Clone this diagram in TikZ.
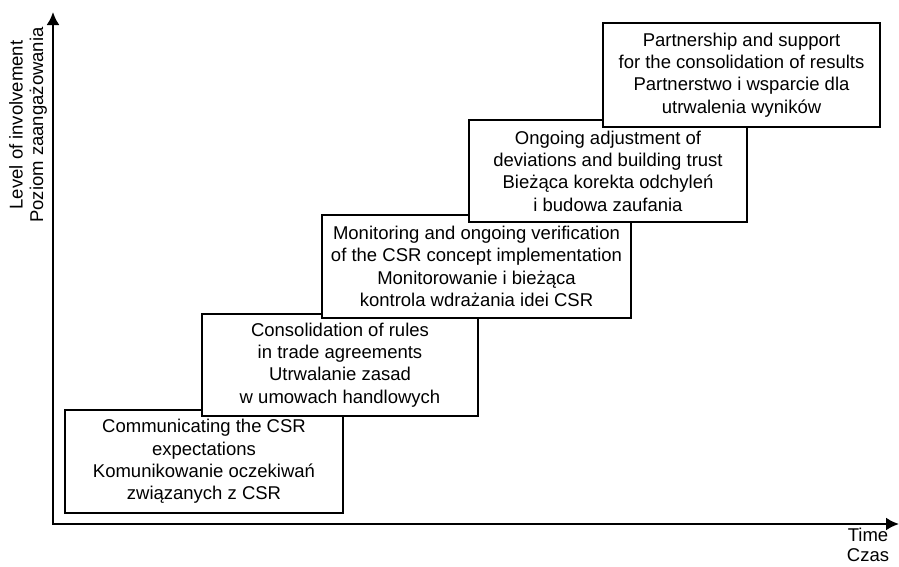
\documentclass[tikz,border=0pt]{standalone}
\usepackage{fontspec}
\setmainfont{Liberation Sans}
\usetikzlibrary{arrows.meta}
\tikzset{
  stage/.style={draw=black, fill=white, line width=1.8pt, inner sep=0pt, align=center,
    font=\fontsize{18.5}{22.3}\selectfont},
  axis/.style={line width=2.2pt, {Latex[length=13pt,width=13pt]}-{Latex[length=13pt,width=13pt]}},
  axlabel/.style={align=center, inner sep=0pt, font=\fontsize{18.5}{20.5}\selectfont}
}
\begin{document}
\begin{tikzpicture}[x=1pt,y=-1pt]
\useasboundingbox (0,0) rectangle (899,566);
\coordinate (O) at (53,524);
\coordinate (Ytop) at (53,12);
\coordinate (Xend) at (899,524);
\draw[axis] (Ytop) -- (O) -- (Xend);
\node[axlabel, rotate=90] (ylab) at (28,125) {Level of involvement\\Poziom zaangażowania};
\node[axlabel] (xlab) at (868,545) {Time\\Czas};

\node[stage, minimum width=278pt, minimum height=103pt] (s1) at (204,461.5)
  {Communicating the CSR\\expectations\\Komunikowanie oczekiwań\\związanych z CSR};
\node[stage, minimum width=276pt, minimum height=102pt] (s2) at (340,365)
  {Consolidation of rules\\in trade agreements\\Utrwalanie zasad\\w umowach handlowych};
\node[stage, minimum width=309pt, minimum height=103pt] (s3) at (476.5,266.5)
  {Monitoring and ongoing verification\\of the CSR concept implementation\\Monitorowanie i bieżąca\\kontrola wdrażania idei CSR};
\node[stage, minimum width=278pt, minimum height=102pt] (s4) at (608,171)
  {Ongoing adjustment of\\deviations and building trust\\Bieżąca korekta odchyleń\\i budowa zaufania};
\node[stage, minimum width=277pt, minimum height=104pt] (s5) at (741.5,75)
  {Partnership and support\\for the consolidation of results\\Partnerstwo i wsparcie dla\\utrwalenia wyników};
\end{tikzpicture}
\end{document}
